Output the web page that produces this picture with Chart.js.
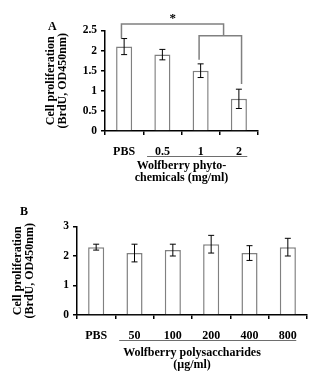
<!DOCTYPE html>
<html lang="en">
<head>
  <meta charset="UTF-8">
  <title>Wolfberry cell proliferation</title>
  <script src="https://cdn.jsdelivr.net/npm/chart.js"></script>
  <style>
    body { margin: 0; background: #fff; width: 320px; height: 383px; position: relative; overflow: hidden; }
    .panel { position: absolute; left: 0; width: 320px; }
    .tag { position: absolute; font: bold 12px "Liberation Serif", serif; color: #000; }
  </style>
</head>
<body>
  <div class="panel" style="top:0;height:190px"><canvas id="chartA" width="320" height="190"></canvas></div>
  <div class="panel" style="top:190px;height:193px"><canvas id="chartB" width="320" height="193"></canvas></div>
  <div class="tag" style="left:48px;top:19px">A</div>
  <div class="tag" style="left:20px;top:204px">B</div>

  <script>
    // panel A - phytochemicals
    const catsA = ['PBS', '0.5', '1', '2'];
    const meanA = [2.1, 1.9, 1.5, 0.8];
    const errA = [0.2, 0.13, 0.17, 0.24];
    const ticksA = [0, 0.5, 1, 1.5, 2, 2.5];
    const tickLabelsA = ['0', '0.5', '1', '1.5', '2', '2.5'];
    const groupTitleA = ['Wolfberry phyto-', 'chemicals (mg/ml)'];

    // significance brackets (category index, value)
    const bracketOuter = [[-0.07, 2.3], [-0.07, 2.66], [2.6, 2.66], [2.6, 2.37]];
    const bracketInner = [[1.96, 1.77], [1.96, 2.37], [3.07, 2.37], [3.07, 1.17]];
    const starAt = [1.27, 2.8];

    // panel B - polysaccharides
    const catsB = ['PBS', '50', '100', '200', '400', '800'];
    const meanB = [2.3, 2.1, 2.2, 2.4, 2.1, 2.3];
    const errB = [0.1, 0.3, 0.2, 0.3, 0.25, 0.3];
    const ticksB = [0, 0.5, 1, 1.5, 2, 2.5, 3];
    const tickLabelsB = ['0', '0.5', '1', '1.5', '2', '2.5', '3'];
    const groupTitleB = ['Wolfberry polysaccharides', '(\u00b5g/ml)'];

    const yTitle = ['Cell proliferation', '(BrdU, OD450nm)'];
    const serif = '"Liberation Serif", "Times New Roman", serif';

    const errorBars = {
      id: 'errorBars',
      afterDatasetsDraw(chart, args, opts) {
        const { ctx, scales: { y } } = chart;
        const meta = chart.getDatasetMeta(0);
        const vals = chart.data.datasets[0].data;
        ctx.save();
        ctx.strokeStyle = '#000';
        ctx.lineWidth = 1;
        meta.data.forEach((bar, i) => {
          const t = y.getPixelForValue(vals[i] + opts.err[i]);
          const b = y.getPixelForValue(vals[i] - opts.err[i]);
          ctx.beginPath();
          ctx.moveTo(bar.x, t); ctx.lineTo(bar.x, b);
          ctx.moveTo(bar.x - 3, t); ctx.lineTo(bar.x + 3, t);
          ctx.moveTo(bar.x - 3, b); ctx.lineTo(bar.x + 3, b);
          ctx.stroke();
        });
        ctx.restore();
      }
    };

    // line under the treated groups' labels
    const groupLine = {
      id: 'groupLine',
      afterDraw(chart, args, opts) {
        const { ctx, chartArea, scales: { x } } = chart;
        const last = chart.data.labels.length - 1;
        const yy = chartArea.bottom + opts.dy;
        ctx.save();
        ctx.strokeStyle = '#6e6e6e';
        ctx.lineWidth = 1;
        ctx.beginPath();
        ctx.moveTo(x.getPixelForValue(opts.from), yy);
        ctx.lineTo(x.getPixelForValue(last + opts.pad), yy);
        ctx.stroke();
        ctx.restore();
      }
    };

    const sigBracket = {
      id: 'sigBracket',
      afterDraw(chart, args, opts) {
        if (!opts.lines) return;
        const { ctx, scales: { x, y } } = chart;
        ctx.save();
        ctx.strokeStyle = '#808080';
        ctx.lineWidth = 1.5;
        opts.lines.forEach(pts => {
          ctx.beginPath();
          pts.forEach((p, i) => {
            const px = x.getPixelForValue(p[0]), py = y.getPixelForValue(p[1]);
            i ? ctx.lineTo(px, py) : ctx.moveTo(px, py);
          });
          ctx.stroke();
        });
        ctx.fillStyle = '#000';
        ctx.font = 'bold 13px ' + serif;
        ctx.textAlign = 'center';
        ctx.textBaseline = 'middle';
        ctx.fillText('*', x.getPixelForValue(opts.star[0]), y.getPixelForValue(opts.star[1]));
        ctx.restore();
      }
    };

    function makeChart(id, cats, mean, err, ticks, tickLabels, groupTitle, box) {
      return new Chart(document.getElementById(id), {
        type: 'bar',
        data: {
          labels: cats,
          datasets: [{
            data: mean,
            backgroundColor: '#fff',
            borderColor: '#808080',
            borderWidth: 1.5,
            barPercentage: 0.42,
            categoryPercentage: 1
          }]
        },
        options: {
          responsive: false,
          animation: false,
          events: [],
          layout: { padding: { left: 0, right: box.right, top: box.top, bottom: 0 } },
          plugins: {
            legend: { display: false },
            tooltip: { enabled: false },
            errorBars: { err },
            groupLine: { from: 0.6, pad: 0.22, dy: 25.5 },
            sigBracket: box.sig || {}
          },
          scales: {
            x: {
              grid: { display: true, drawOnChartArea: false, drawTicks: true, tickLength: 4, color: '#000', lineWidth: 1.5 },
              border: { color: '#000', width: 1.5 },
              ticks: { color: '#000', padding: 9.5, maxRotation: 0, font: { family: serif, size: 12, weight: 'bold' } },
              title: {
                display: true, text: groupTitle, color: '#000',
                font: { family: serif, size: 12, weight: 'bold', lineHeight: 1 },
                padding: { top: 0, bottom: box.titlePad }
              },
              afterFit(s) { s.height = box.xHeight; }
            },
            y: {
              min: ticks[0],
              max: ticks[ticks.length - 1],
              afterBuildTicks(s) { s.ticks = ticks.map(v => ({ value: v })); },
              grid: { display: true, drawOnChartArea: false, drawTicks: true, tickLength: 4, color: '#000', lineWidth: 1.5 },
              border: { color: '#000', width: 1.5 },
              ticks: {
                color: '#000', padding: 4,
                font: { family: serif, size: 11.5, weight: 'bold' },
                callback: (v, i) => tickLabels[i]
              },
              title: {
                display: true, text: yTitle, color: '#000',
                font: { family: serif, size: 12, weight: 'bold', lineHeight: 1 },
                padding: { top: box.yTitlePad, bottom: 0 }
              },
              afterFit(s) { s.width = box.left; }
            }
          }
        },
        plugins: [errorBars, groupLine, sigBracket]
      });
    }

    makeChart('chartA', catsA, meanA, errA, ticksA, tickLabelsA, groupTitleA, {
      left: 105, right: 62, top: 30.5, xHeight: 59, titlePad: 6, yTitlePad: 45,
      sig: { lines: [bracketOuter, bracketInner], star: starAt }
    });
    makeChart('chartB', catsB, meanB, errB, ticksB, tickLabelsB, groupTitleB, {
      left: 77, right: 13, top: 36.5, xHeight: 68, titlePad: 12, yTitlePad: 12
    });
  </script>
</body>
</html>
